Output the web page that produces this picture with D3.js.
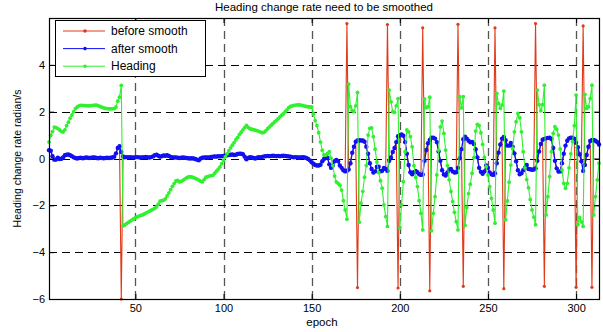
<!DOCTYPE html>
<html>
<head>
<meta charset="utf-8">
<script src="https://cdn.jsdelivr.net/npm/d3@7"></script>
<style>
	html, body { margin: 0; padding: 0; background: #fff; }
	svg text { font-family: "Liberation Sans", Arial, sans-serif; fill: #000; }
</style>
</head>
<body>
<div id="chart"></div>
<script>
// values, one per epoch (1..313)
const headingRate = [ // after smooth
	0.35, 0.33, 0.10, -0.05, -0.04, 0.03, -0.02, -0.01, 0.05, 0.14,
	0.16, 0.17, 0.14, 0.10, 0.05, 0.02, 0.00, 0.02, 0.03, 0.01,
	0.02, 0.04, 0.03, 0.02, 0.03, 0.05, 0.04, 0.02, 0.01, 0.03,
	0.02, 0.01, 0.02, 0.03, 0.02, 0.03, 0.04, 0.08, 0.22, 0.45,
	0.52, 0.28, 0.09, 0.05, 0.06, 0.05, 0.06, 0.05, 0.04, 0.05,
	0.06, 0.05, 0.04, 0.05, 0.06, 0.07, 0.05, 0.04, 0.06, 0.09,
	0.14, 0.16, 0.12, 0.08, 0.10, 0.13, 0.12, 0.14, 0.11, 0.07,
	0.05, 0.04, 0.05, 0.03, 0.02, 0.03, 0.04, 0.03, 0.02, 0.01,
	0.00, 0.01, 0.00, -0.02, -0.05, -0.08, 0.00, 0.03, 0.04, 0.05,
	0.04, 0.05, 0.07, 0.08, 0.09, 0.08, 0.10, 0.09, 0.10, 0.11,
	0.12, 0.14, 0.15, 0.16, 0.17, 0.15, 0.16, 0.19, 0.21, 0.20,
	0.18, 0.08, -0.03, 0.02, 0.06, 0.04, 0.02, 0.00, 0.03, 0.06,
	0.05, 0.07, 0.09, 0.10, 0.11, 0.10, 0.11, 0.12, 0.11, 0.10,
	0.11, 0.10, 0.11, 0.12, 0.11, 0.10, 0.09, 0.08, 0.06, 0.05,
	0.06, 0.05, 0.04, 0.05, 0.06, 0.04, 0.02, -0.02, -0.08, -0.16,
	-0.22, -0.28, -0.30, -0.30, -0.27, -0.12, -0.02, 0.08, 0.03, -0.25,
	-0.40, -0.30, -0.12, -0.06, -0.12, -0.30, -0.40, -0.50, -0.55, -0.52,
	-0.47, -0.20, 0.25, 0.50, 0.72, 0.77, 0.78, 0.77, 0.77, 0.72,
	0.50, 0.20, -0.20, -0.45, -0.60, -0.55, -0.35, -0.35, -0.55, -0.52,
	-0.40, -0.45, -0.53, -0.10, 0.04, 0.28, 0.45, 0.70, 0.95, 1.00,
	1.03, 0.97, 0.70, 0.20, -0.28, -0.59, -0.67, -0.59, -0.53, -0.59,
	-0.67, -0.70, -0.68, -0.10, 0.36, 0.65, 0.79, 0.89, 0.89, 0.85,
	0.70, 0.30, -0.10, -0.50, -0.68, -0.73, -0.60, -0.47, -0.45, -0.55,
	-0.60, -0.59, -0.40, 0.01, 0.40, 0.82, 0.93, 0.85, 0.76, 0.69,
	0.71, 0.62, 0.40, 0.05, -0.40, -0.57, -0.65, -0.55, -0.30, -0.40,
	-0.60, -0.67, -0.70, -0.63, -0.20, 0.25, 0.60, 0.85, 0.92, 0.78,
	0.55, 0.55, 0.66, 0.50, 0.22, -0.12, -0.50, -0.67, -0.63, -0.50,
	-0.39, -0.28, -0.45, -0.46, -0.48, -0.47, -0.42, -0.10, 0.30, 0.62,
	0.80, 0.84, 0.86, 0.88, 0.89, 0.83, 0.45, -0.10, -0.42, -0.56,
	-0.55, -0.20, 0.20, 0.55, 0.76, 0.86, 0.89, 0.89, 0.84, 0.67,
	0.48, 0.18, -0.12, -0.53, -0.28, 0.15, 0.50, 0.75, 0.79, 0.79,
	0.76, 0.70, 0.60
];

const rawRate = [ // before smooth
	0.35, 0.33, 0.10, -0.05, -0.04, 0.03, -0.02, -0.01, 0.05, 0.14,
	0.16, 0.17, 0.14, 0.10, 0.05, 0.02, 0.00, 0.02, 0.03, 0.01,
	0.02, 0.04, 0.03, 0.02, 0.03, 0.05, 0.04, 0.02, 0.01, 0.03,
	0.02, 0.01, 0.02, 0.03, 0.02, 0.03, 0.04, 0.08, 0.22, 0.45,
	0.52, -6.00, 0.09, 0.05, 0.06, 0.05, 0.06, 0.05, 0.04, 0.05,
	0.06, 0.05, 0.04, 0.05, 0.06, 0.07, 0.05, 0.04, 0.06, 0.09,
	0.14, 0.16, 0.12, 0.08, 0.10, 0.13, 0.12, 0.14, 0.11, 0.07,
	0.05, 0.04, 0.05, 0.03, 0.02, 0.03, 0.04, 0.03, 0.02, 0.01,
	0.00, 0.01, 0.00, -0.02, -0.05, -0.08, 0.00, 0.03, 0.04, 0.05,
	0.04, 0.05, 0.07, 0.08, 0.09, 0.08, 0.10, 0.09, 0.10, 0.11,
	0.12, 0.14, 0.15, 0.16, 0.17, 0.15, 0.16, 0.19, 0.21, 0.20,
	0.18, 0.08, -0.03, 0.02, 0.06, 0.04, 0.02, 0.00, 0.03, 0.06,
	0.05, 0.07, 0.09, 0.10, 0.11, 0.10, 0.11, 0.12, 0.11, 0.10,
	0.11, 0.10, 0.11, 0.12, 0.11, 0.10, 0.09, 0.08, 0.06, 0.05,
	0.06, 0.05, 0.04, 0.05, 0.06, 0.04, 0.02, -0.02, -0.08, -0.16,
	-0.22, -0.28, -0.30, -0.30, -0.27, -0.12, -0.02, 0.08, 0.03, -0.25,
	-0.40, -0.30, -0.12, -0.06, -0.12, -0.30, -0.40, -0.50, -0.55, 5.76,
	-0.47, -0.20, 0.25, 0.50, 0.72, -5.51, 0.78, 0.77, 0.77, 0.72,
	0.50, 0.20, -0.20, -0.45, -0.60, -0.55, -0.35, -0.35, -0.55, -0.52,
	-0.40, -0.45, 5.72, -0.10, 0.04, 0.28, 0.45, 0.70, -5.53, 1.00,
	1.03, 0.97, 0.70, 0.20, -0.28, -0.59, -0.67, -0.59, -0.53, -0.59,
	-0.67, -0.70, 5.58, -0.10, 0.36, 0.65, -5.65, 0.89, 0.89, 0.85,
	0.70, 0.30, -0.10, -0.50, -0.68, -0.73, -0.60, -0.47, -0.45, -0.55,
	-0.60, -0.59, 5.73, 0.01, 0.40, -5.46, 0.93, 0.85, 0.76, 0.69,
	0.71, 0.62, 0.40, 0.05, -0.40, -0.57, -0.65, -0.55, -0.30, -0.40,
	-0.60, -0.67, -0.70, 5.58, -0.20, 0.25, 0.60, 0.85, -5.56, 0.78,
	0.55, 0.55, 0.66, 0.50, 0.22, -0.12, -0.50, -0.67, -0.63, -0.50,
	-0.39, -0.28, -0.45, -0.46, -0.48, -0.47, 5.76, -0.10, 0.30, 0.62,
	0.80, -5.46, 0.86, 0.88, 0.89, 0.83, 0.45, -0.10, -0.42, -0.56,
	-0.55, -0.20, 0.20, 0.55, 0.76, 0.86, 0.89, 0.89, 0.84, -5.50,
	0.48, 0.18, -0.12, 5.66, -0.28, 0.15, 0.50, 0.75, -5.50, 0.79,
	0.76, 0.70, 0.60
];

const heading = [
	0.70, 0.99, 1.15, 1.34, 1.32, 1.28, 1.22, 1.16, 1.13, 1.22,
	1.40, 1.55, 1.72, 1.86, 2.00, 2.13, 2.20, 2.25, 2.27, 2.27,
	2.26, 2.26, 2.25, 2.25, 2.26, 2.27, 2.28, 2.28, 2.25, 2.22,
	2.19, 2.16, 2.14, 2.13, 2.12, 2.12, 2.12, 2.13, 2.20, 2.45,
	2.62, 3.12, -2.88, -2.84, -2.78, -2.73, -2.68, -2.63, -2.58, -2.53,
	-2.49, -2.46, -2.43, -2.41, -2.37, -2.33, -2.29, -2.25, -2.21, -2.17,
	-2.12, -2.07, -1.95, -1.82, -1.80, -1.78, -1.72, -1.60, -1.47, -1.33,
	-1.19, -1.07, -0.96, -0.94, -1.00, -0.98, -0.93, -0.88, -0.83, -0.79,
	-0.78, -0.79, -0.82, -0.85, -0.88, -0.92, -0.97, -1.00, -0.90, -0.80,
	-0.77, -0.75, -0.73, -0.72, -0.63, -0.54, -0.45, -0.36, -0.22, -0.07,
	0.07, 0.20, 0.33, 0.45, 0.57, 0.68, 0.80, 0.90, 1.02, 1.12,
	1.22, 1.32, 1.41, 1.33, 1.27, 1.25, 1.23, 1.21, 1.19, 1.16,
	1.13, 1.10, 1.12, 1.18, 1.27, 1.34, 1.42, 1.49, 1.56, 1.63,
	1.70, 1.78, 1.85, 1.91, 2.00, 2.08, 2.17, 2.22, 2.25, 2.27,
	2.28, 2.29, 2.29, 2.28, 2.26, 2.24, 2.22, 2.21, 2.20, 2.20,
	1.90, 1.62, 1.40, 1.10, 0.70, 0.35, 0.15, 0.14, 0.22, 0.29,
	0.01, -0.30, -0.75, -1.00, -1.06, -1.14, -1.35, -1.80, -2.20, -2.59,
	3.18, 2.21, 2.05, 2.00, 2.25, 2.82, -2.72, -1.91, -1.40, -0.80,
	-0.30, 1.00, 1.29, 1.31, 0.93, 0.40, -0.15, -0.60, -0.95, -1.27,
	-1.98, -2.48, -2.90, 2.92, 2.42, 2.00, 1.97, 2.25, 2.56, -2.97,
	-1.98, -0.99, 0.29, 1.22, 1.14, 0.93, 0.50, -0.30, -0.80, -1.20,
	-1.80, -2.34, -3.05, 2.54, 2.17, 2.21, 2.62, -3.09, -2.34, -1.63,
	-0.70, 0.36, 1.35, 1.60, 1.07, 0.36, -0.30, -0.91, -1.41, -1.84,
	-2.30, -2.70, -3.05, 2.64, 2.16, 2.64, -2.86, -2.09, -1.50, -1.10,
	-0.63, 0.04, 1.17, 1.46, 1.40, 1.10, 0.60, 0.05, -0.35, -0.70,
	-1.20, -1.70, -2.20, -2.76, 2.78, 2.35, 2.14, 2.28, 2.88, -2.62,
	-1.81, -1.01, -0.28, 0.43, 1.14, 1.57, 1.93, 1.74, 1.14, 0.29,
	-0.40, -0.90, -1.25, -1.75, -2.20, -2.50, -2.83, 2.92, 2.30, 2.04,
	2.30, 3.13, -2.41, -1.63, -0.77, 0.29, 1.07, 1.36, 1.25, 1.00,
	0.41, -0.49, -1.06, -1.27, -1.06, -0.40, 0.20, 0.72, 1.40, 2.71,
	-2.83, -2.52, -2.70, -2.90, 2.74, 2.14, 2.21, 2.56, 3.13, -2.41,
	-1.63, -0.91, -0.20
];

const seriesNames = ['before smooth', 'after smooth', 'Heading'];
const seriesColors = ['#e03a18', '#1010f2', '#30f030'];
const xTicks = [50, 100, 150, 200, 250, 300];
const yTicks = [-6, -4, -2, 0, 2, 4];
const xDomain = [1, 313];
const yDomain = [-6, 6];

const width = 603, height = 332;
const box = { left: 49, right: 599, top: 18, bottom: 299 };

const svg = d3.select('#chart').append('svg')
              .attr('width', width)
              .attr('height', height);

const x = d3.scaleLinear().domain(xDomain).range([box.left, box.right]);
const y = d3.scaleLinear().domain(yDomain).range([box.bottom, box.top]);

// dashed grid
const grid = svg.append('g').attr('class', 'grid');
grid.selectAll('line.gx')
    .data(xTicks)
    .join('line')
    .attr('class', 'gx')
    .attr('x1', d => Math.round(x(d)) + 0.5)
    .attr('x2', d => Math.round(x(d)) + 0.5)
    .attr('y1', box.top)
    .attr('y2', box.bottom)
    .attr('stroke', '#555')
    .attr('stroke-width', 1.3)
    .attr('stroke-dasharray', '8,5');
grid.selectAll('line.gy')
    .data(yTicks)
    .join('line')
    .attr('class', 'gy')
    .attr('x1', box.left)
    .attr('x2', box.right)
    .attr('y1', d => Math.round(y(d)) + 0.5)
    .attr('y2', d => Math.round(y(d)) + 0.5)
    .attr('stroke', '#000')
    .attr('stroke-width', 1)
    .attr('stroke-dasharray', '8,5');

// series: red first, then blue, green on top
const allSeries = [rawRate, headingRate, heading];
const markerR = [1.6, 2.2, 1.9];
const lineW = [1.1, 1.3, 1.1];
const line = d3.line()
               .x((d, i) => x(i + 1))
               .y(d => y(d));

allSeries.forEach((data, k) => {
	const g = svg.append('g').attr('class', 'series-' + k);
	g.append('path')
	 .datum(data)
	 .attr('d', line)
	 .attr('fill', 'none')
	 .attr('stroke', seriesColors[k])
	 .attr('stroke-width', lineW[k])
	 .attr('stroke-linejoin', 'round');
	g.selectAll('circle')
	 .data(data)
	 .join('circle')
	 .attr('cx', (d, i) => x(i + 1))
	 .attr('cy', d => y(d))
	 .attr('r', markerR[k])
	 .attr('fill', seriesColors[k]);
});

// axes, ticks pointing in
const fmt = d3.format('d');
svg.append('g')
   .attr('transform', `translate(0, ${box.bottom})`)
   .call(d3.axisBottom(x).tickValues(xTicks).tickSize(-5).tickPadding(5).tickFormat(fmt))
   .call(g => g.select('.domain').remove());
svg.append('g')
   .attr('transform', `translate(0, ${box.top})`)
   .call(d3.axisTop(x).tickValues(xTicks).tickSize(-5).tickFormat(''))
   .call(g => g.select('.domain').remove());
svg.append('g')
   .attr('transform', `translate(${box.left}, 0)`)
   .call(d3.axisLeft(y).tickValues(yTicks).tickSize(-5).tickPadding(4).tickFormat(fmt))
   .call(g => g.select('.domain').remove());
svg.append('g')
   .attr('transform', `translate(${box.right}, 0)`)
   .call(d3.axisRight(y).tickValues(yTicks).tickSize(-5).tickFormat(''))
   .call(g => g.select('.domain').remove());

svg.selectAll('.tick text')
   .attr('font-size', 11)
   .attr('font-family', '"Liberation Sans", Arial, sans-serif')
   .attr('fill', '#000');
svg.selectAll('.tick line').attr('stroke', '#000');

svg.append('rect')
   .attr('x', box.left + 0.5)
   .attr('y', box.top + 0.5)
   .attr('width', box.right - box.left)
   .attr('height', box.bottom - box.top)
   .attr('fill', 'none')
   .attr('stroke', '#000')
   .attr('stroke-width', 1.2);

// texts
svg.append('text')
   .attr('x', (box.left + box.right) / 2)
   .attr('y', 11)
   .attr('text-anchor', 'middle')
   .attr('font-size', 11.5)
   .text('Heading change rate need to be smoothed');
svg.append('text')
   .attr('x', 322)
   .attr('y', 326)
   .attr('text-anchor', 'middle')
   .attr('font-size', 11.5)
   .text('epoch');
svg.append('text')
   .attr('transform', `translate(21, ${(box.top + box.bottom) / 2}) rotate(-90)`)
   .attr('text-anchor', 'middle')
   .attr('font-size', 10.5)
   .text('Heading change rate radian/s');

// legend
const legend = svg.append('g').attr('class', 'legend');
legend.append('rect')
      .attr('x', 55.5)
      .attr('y', 20.5)
      .attr('width', 150)
      .attr('height', 56)
      .attr('fill', '#fff')
      .attr('stroke', '#000');
seriesNames.forEach((name, k) => {
	const ly = 31 + k * 17.6;
	legend.append('line')
	      .attr('x1', 63).attr('x2', 105)
	      .attr('y1', ly).attr('y2', ly)
	      .attr('stroke', seriesColors[k]);
	legend.append('circle')
	      .attr('cx', 85).attr('cy', ly).attr('r', 1.8)
	      .attr('fill', seriesColors[k]);
	legend.append('text')
	      .attr('x', 111)
	      .attr('y', ly + 4)
	      .attr('font-size', 12)
	      .text(name);
});
</script>
</body>
</html>
